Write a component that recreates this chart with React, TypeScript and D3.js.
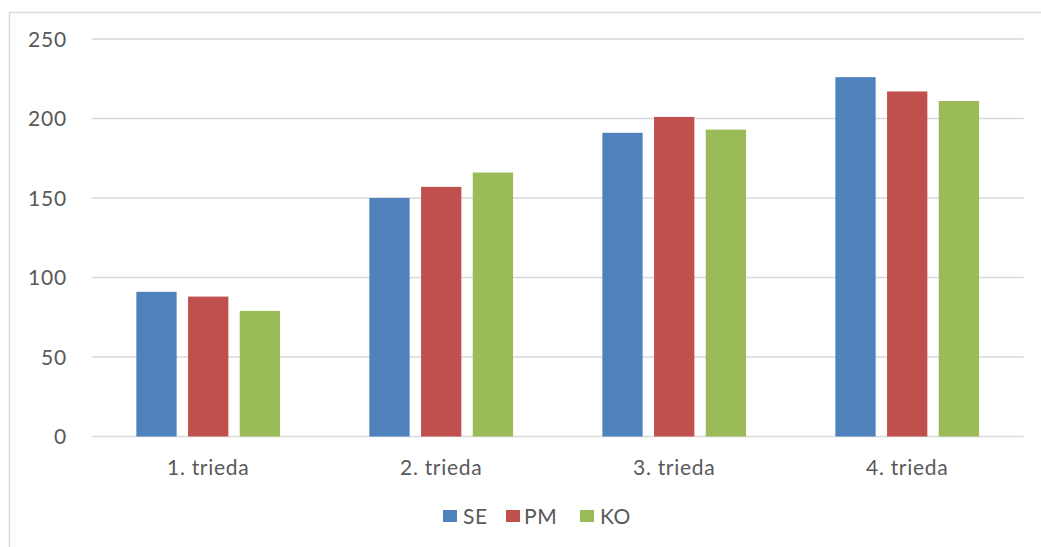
import { scaleBand, scaleLinear } from 'd3';

const categories = ['1. trieda', '2. trieda', '3. trieda', '4. trieda'];
const seriesNames = ['SE', 'PM', 'KO'];
const seValues = [91, 150, 191, 226];
const pmValues = [88, 157, 201, 217];
const koValues = [79, 166, 193, 211];
const yTicks = [0, 50, 100, 150, 200, 250];

const colors = ['#4F81BD', '#C0504D', '#9BBB59'];
const textColor = '#595959';
const gridColor = '#D9D9D9';
const font = 'Lato, "Open Sans", sans-serif';

export default function App() {
  const width = 1041;
  const height = 547;
  const plot = { left: 91.7, right: 1023.7, top: 39, bottom: 436.5 };

  const series = [seValues, pmValues, koValues];

  const x = scaleBand<string>()
    .domain(categories)
    .range([plot.left, plot.right]);

  const barWidth = 40.3;
  const barStep = 51.7;

  const y = scaleLinear().domain([0, 250]).range([plot.bottom, plot.top]);

  // legend layout
  const legendItems = [
    { sq: 443, tx: 463 },
    { sq: 506, tx: 524 },
    { sq: 580, tx: 600 },
  ];

  return (
    <svg
      width={width}
      height={height}
      style={{ position: 'absolute', left: 0, top: 0, background: '#fff' }}
    >
      {/* chart frame */}
      <rect
        x={9.5}
        y={12.5}
        width={1200}
        height={800}
        fill="#fff"
        stroke={gridColor}
        strokeWidth={1.5}
      />

      {/* gridlines */}
      {yTicks.map((t) => (
        <line
          key={t}
          x1={plot.left}
          x2={plot.right}
          y1={y(t)}
          y2={y(t)}
          stroke={gridColor}
          strokeWidth={1.3}
        />
      ))}

      {/* y tick labels */}
      {yTicks.map((t) => (
        <text
          key={`l${t}`}
          x={67}
          y={y(t)}
          dy="0.36em"
          textAnchor="end"
          fontFamily={font}
          fontSize={21}
          letterSpacing={0.8}
          fill={textColor}
        >
          {t}
        </text>
      ))}

      {/* bars */}
      {categories.map((c, ci) => {
        const center = (x(c) || 0) + x.bandwidth() / 2;
        const groupLeft = center - barStep - barWidth / 2;
        return series.map((vals, si) => (
          <rect
            key={`${c}-${si}`}
            x={groupLeft + si * barStep}
            y={y(vals[ci])}
            width={barWidth}
            height={plot.bottom - y(vals[ci])}
            fill={colors[si]}
          />
        ));
      })}

      {/* category labels */}
      {categories.map((c) => (
        <text
          key={c}
          x={(x(c) || 0) + x.bandwidth() / 2}
          y={467}
          dy="0.36em"
          textAnchor="middle"
          fontFamily={font}
          fontSize={21}
          letterSpacing={0.7}
          fill={textColor}
        >
          {c}
        </text>
      ))}

      {/* legend */}
      {seriesNames.map((name, i) => (
        <g key={name}>
          <rect
            x={legendItems[i].sq}
            y={510}
            width={14}
            height={12}
            fill={colors[i]}
          />
          <text
            x={legendItems[i].tx}
            y={516}
            dy="0.36em"
            fontFamily={font}
            fontSize={21}
            letterSpacing={0.6}
            fill={textColor}
          >
            {name}
          </text>
        </g>
      ))}
    </svg>
  );
}
